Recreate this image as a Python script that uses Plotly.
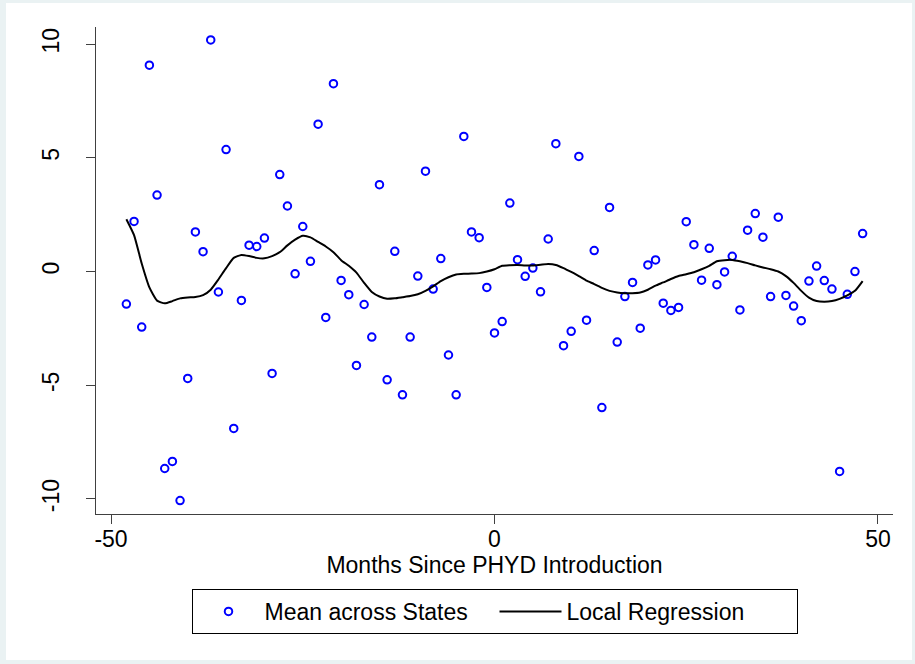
import plotly.graph_objects as go

# ---- data ----
months = list(range(-48, 49))

state_means = [
    -1.43, 2.20, -2.44, 9.07, 3.36, -8.66, -8.35, -10.07, -4.70, 1.74,   # -48..-39
    0.87, 10.18, -0.90, 5.36, -6.90, -1.27, 1.16, 1.10, 1.47, -4.48,     # -38..-29
    4.26, 2.88, -0.10, 1.98, 0.45, 6.48, -2.02, 8.26, -0.39, -1.02,      # -28..-19
    -4.13, -1.45, -2.88, 3.82, -4.76, 0.89, -5.42, -2.88, -0.20, 4.41,   # -18..-9
    -0.77, 0.57, -3.67, -5.42, 5.94, 1.74, 1.49, -0.70, -2.70, -2.20,    # -8..1
    3.01, 0.52, -0.21, 0.15, -0.89, 1.43, 5.62, -3.26, -2.63, 5.06,      # 2..11
    -2.14, 0.92, -5.98, 2.82, -3.10, -1.10, -0.48, -2.49, 0.29, 0.51,    # 12..21
    -1.39, -1.71, -1.58, 2.19, 1.18, -0.38, 1.02, -0.58, -0.02, 0.67,    # 22..31
    -1.69, 1.82, 2.55, 1.51, -1.10, 2.39, -1.05, -1.52, -2.16, -0.42,    # 32..41
    0.24, -0.40, -0.77, -8.79, -1.00, 0.00, 1.67,                        # 42..48
]

loess_fit = [
    2.30, 1.60, 0.35, -0.70, -1.28, -1.40, -1.30, -1.18, -1.14, -1.12,   # -48..-39
    -1.04, -0.80, -0.35, 0.15, 0.60, 0.73, 0.68, 0.60, 0.58, 0.68,       # -38..-29
    0.85, 1.15, 1.40, 1.57, 1.50, 1.30, 1.10, 0.85, 0.50, 0.25,          # -28..-19
    -0.05, -0.50, -0.90, -1.10, -1.20, -1.18, -1.13, -1.08, -1.00, -0.85, # -18..-9
    -0.65, -0.42, -0.25, -0.13, -0.10, -0.09, -0.07, 0.00, 0.10, 0.25,   # -8..1
    0.28, 0.29, 0.27, 0.27, 0.30, 0.33, 0.29, 0.15, -0.02, -0.20,        # 2..11
    -0.40, -0.55, -0.72, -0.85, -0.92, -0.95, -0.95, -0.92, -0.80, -0.62, # 12..21
    -0.48, -0.33, -0.20, -0.12, -0.03, 0.10, 0.25, 0.45, 0.50, 0.51,     # 22..31
    0.45, 0.37, 0.27, 0.18, 0.10, 0.00, -0.20, -0.50, -0.85, -1.15,      # 32..41
    -1.30, -1.33, -1.30, -1.20, -1.05, -0.85, -0.42,                     # 42..48
]

x_ticks = [-50, 0, 50]
x_tick_labels = ["-50", "0", "50"]
y_ticks = [-10, -5, 0, 5, 10]
y_tick_labels = ["-10", "-5", "0", "5", "10"]

FONT = "Liberation Sans, Arial, sans-serif"
AXIS_COLOR = "#404040"

fig = go.Figure()
fig.add_trace(go.Scatter(
    x=months, y=state_means, mode="markers", name="Mean across States",
    marker=dict(symbol="circle-open", size=7.5, color="#0000FF",
                line=dict(width=2, color="#0000FF")),
))
fig.add_trace(go.Scatter(
    x=months, y=loess_fit, mode="lines", name="Local Regression",
    line=dict(color="black", width=2, shape="spline", smoothing=0.5),
))

fig.update_layout(
    width=915, height=664,
    margin=dict(l=96, r=22, t=27, b=150, autoexpand=False),
    paper_bgcolor="#EAF2F3",
    plot_bgcolor="white",
    font=dict(family=FONT, size=23, color="black"),
    showlegend=True,
    legend=dict(
        orientation="h", x=0.5, xanchor="center", y=-0.154, yanchor="top",
        bordercolor="black", borderwidth=1, bgcolor="white",
        font=dict(family=FONT, size=23, color="black"),
        itemwidth=62, entrywidth=225, entrywidthmode="pixels",
    ),
    shapes=[dict(type="rect", xref="paper", yref="paper",
                 x0=-0.1129, x1=1.0238, y0=-0.2998, y1=1.0493,
                 fillcolor="white", line=dict(width=0), layer="below")],
    xaxis=dict(
        range=[-51.96, 51.96], tickvals=x_ticks, ticktext=x_tick_labels,
        ticks="outside", ticklen=9,
        tickcolor=AXIS_COLOR, tickwidth=1, showline=True, linecolor=AXIS_COLOR,
        linewidth=1.2, showgrid=False, zeroline=False,
        ticklabelstandoff=-5,
        tickfont=dict(family=FONT, size=23, color="black"),
        title=dict(text="Months Since PHYD Introduction", standoff=0,
                   font=dict(family=FONT, size=23, color="black")),
    ),
    yaxis=dict(
        range=[-10.66, 10.75], tickvals=y_ticks, ticktext=y_tick_labels,
        ticks="outside", ticklen=9,
        tickcolor=AXIS_COLOR, tickwidth=1, showline=True, linecolor=AXIS_COLOR,
        linewidth=1.2, showgrid=False, zeroline=False, tickangle=-90,
        ticklabelstandoff=18,
        tickfont=dict(family=FONT, size=23, color="black"),
    ),
)

fig.write_html("out.html", config={"displayModeBar": False},
               post_script="document.body.style.margin='0';")
